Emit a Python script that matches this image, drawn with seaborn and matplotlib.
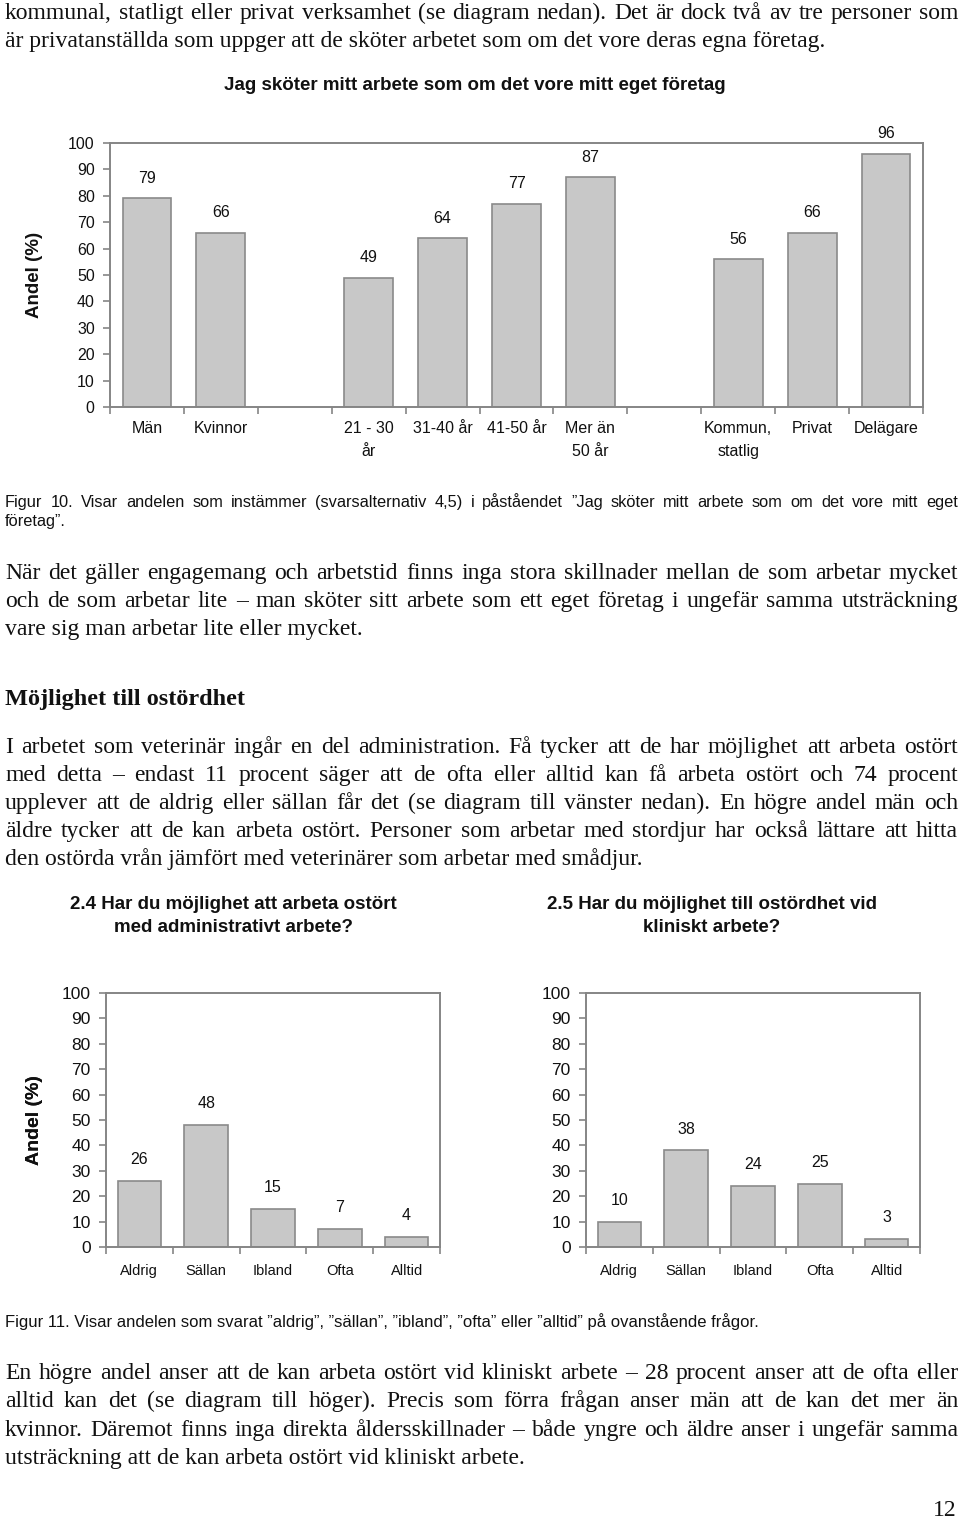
import pandas as pd
import seaborn as sns
import matplotlib.pyplot as plt

# ---- data ----
top_title = "Jag sköter mitt arbete som om det vore mitt eget företag"
top_order = ["Män", "Kvinnor", "gap1", "21 - 30\når", "31-40 år", "41-50 år",
             "Mer än\n50 år", "gap2", "Kommun,\nstatlig", "Privat", "Delägare"]
top_cats = ["Män", "Kvinnor", "21 - 30\når", "31-40 år", "41-50 år",
            "Mer än\n50 år", "Kommun,\nstatlig", "Privat", "Delägare"]
top_vals = [79, 66, 49, 64, 77, 87, 56, 66, 96]

freq_cats = ["Aldrig", "Sällan", "Ibland", "Ofta", "Alltid"]
admin_vals = [26, 48, 15, 7, 4]
klin_vals = [10, 38, 24, 25, 3]
admin_title = "2.4 Har du möjlighet att arbeta ostört\nmed administrativt arbete?"
klin_title = "2.5 Har du möjlighet till ostördhet vid\nkliniskt arbete?"

y_ticks = list(range(0, 101, 10))

para1 = ["kommunal, statligt eller privat verksamhet (se diagram nedan). Det är dock två av tre personer som",
         "är privatanställda som uppger att de sköter arbetet som om det vore deras egna företag."]
cap10 = ["Figur 10. Visar andelen som instämmer (svarsalternativ 4,5) i påståendet \u201dJag sköter mitt arbete som om det vore mitt eget",
         "företag\u201d."]
para2 = ["När det gäller engagemang och arbetstid finns inga stora skillnader mellan de som arbetar mycket",
         "och de som arbetar lite \u2013 man sköter sitt arbete som ett eget företag i ungefär samma utsträckning",
         "vare sig man arbetar lite eller mycket."]
heading = "Möjlighet till ostördhet"
para3 = ["I arbetet som veterinär ingår en del administration. Få tycker att de har möjlighet att arbeta ostört",
         "med detta \u2013 endast 11 procent säger att de ofta eller alltid kan få arbeta ostört och 74 procent",
         "upplever att de aldrig eller sällan får det (se diagram till vänster nedan). En högre andel män och",
         "äldre tycker att de kan arbeta ostört. Personer som arbetar med stordjur har också lättare att hitta",
         "den ostörda vrån jämfört med veterinärer som arbetar med smådjur."]
cap11 = "Figur 11. Visar andelen som svarat \u201daldrig\u201d, \u201dsällan\u201d, \u201dibland\u201d, \u201dofta\u201d eller \u201dalltid\u201d på ovanstående frågor."
para4 = ["En högre andel anser att de kan arbeta ostört vid kliniskt arbete \u2013 28 procent anser att de ofta eller",
         "alltid kan det (se diagram till höger). Precis som förra frågan anser män att de kan det mer än",
         "kvinnor. Däremot finns inga direkta åldersskillnader \u2013 både yngre och äldre anser i ungefär samma",
         "utsträckning att de kan arbeta ostört vid kliniskt arbete."]
page_no = "12"

# ---- style ----
W, H = 960, 1525
sns.set_theme(style="white")
plt.rcParams['font.family'] = ['Liberation Sans', 'DejaVu Sans']
SERIF = ['Liberation Serif', 'DejaVu Serif']
SANS = ['Liberation Sans', 'DejaVu Sans']
BAR = '#c8c8c8'
EDGE = '#8a8a8a'
FRAME = '#858585'
INK = '#111111'
BODY = 17

fig = plt.figure(figsize=(W / 100, H / 100), dpi=100)
renderer = fig.canvas.get_renderer()


def fy(y):
    return 1 - y / H


def put_lines(lines, y0, step, size, family, x0=5, x1=958, justify_last=False, **kw):
    # y0 is the visual centre of the first line; draw on a common baseline
    shift = 0.25 * size * 100 / 72
    for k, s in enumerate(lines):
        y = fy(y0 + k * step + shift)
        last = k == len(lines) - 1
        if last and not justify_last:
            fig.text(x0 / W, y, s, va='baseline', ha='left', fontsize=size, family=family, color=INK, **kw)
            continue
        words = s.split(' ')
        objs = [fig.text(0, y, w, va='baseline', ha='left', fontsize=size, family=family, color=INK, **kw)
                for w in words]
        widths = [o.get_window_extent(renderer).width for o in objs]
        gap = (x1 - x0 - sum(widths)) / (len(words) - 1)
        x = x0
        for o, w in zip(objs, widths):
            o.set_x(x / W)
            x += w + gap


def style_axes(ax, n, xsize, ysize, label_pad):
    ax.set_ylim(0, 100)
    ax.set_xlim(-0.5, n - 0.5)
    ax.set_yticks(y_ticks)
    ax.set_xlabel('')
    for sp in ax.spines.values():
        sp.set_visible(True)
        sp.set_color(FRAME)
        sp.set_linewidth(1.4)
    ax.set_xticks([i - 0.5 for i in range(n + 1)], minor=True)
    ax.tick_params(axis='x', which='major', length=0, pad=label_pad, labelsize=xsize, colors=INK)
    ax.tick_params(axis='x', which='minor', length=5, width=1.2, color=FRAME, direction='out', bottom=True)
    ax.tick_params(axis='y', length=5, width=1.2, color=FRAME, direction='out', left=True,
                   pad=6, labelsize=ysize, labelcolor=INK)


# ---- top chart ----
ax1 = fig.add_axes([110 / W, fy(407), 813 / W, 264 / H])
sns.barplot(x=top_cats, y=top_vals, order=top_order, color=BAR, saturation=1,
            edgecolor=EDGE, linewidth=1.2, width=0.66, ax=ax1)
style_axes(ax1, len(top_order), 11.5, 11.5, 10)
ax1.set_xticks(range(len(top_order)))
ax1.set_xticklabels(['' if c.startswith('gap') else c for c in top_order], linespacing=1.7)
ax1.bar_label(ax1.containers[0], fmt='%d', padding=9, fontsize=11.5, color=INK)
ax1.set_ylabel('Andel (%)', fontsize=13.5, fontweight='bold', color=INK)
ax1.yaxis.set_label_coords((43 - 110) / 813, 0.5)
fig.text(475 / W, fy(86), top_title, ha='center', va='center', fontsize=13.5, fontweight='bold', color=INK)

# ---- bottom charts ----
for left, vals, title, cx in [(106, admin_vals, admin_title, 233), (586, klin_vals, klin_title, 712)]:
    ax = fig.add_axes([left / W, fy(1247), 334 / W, 254 / H])
    sns.barplot(x=freq_cats, y=vals, order=freq_cats, color=BAR, saturation=1,
                edgecolor=EDGE, linewidth=1.2, width=0.65, ax=ax)
    style_axes(ax, len(freq_cats), 10.5, 12.5, 12)
    ax.bar_label(ax.containers[0], fmt='%d', padding=10, fontsize=11.5, color=INK)
    ax.set_ylabel('Andel (%)', fontsize=14, fontweight='bold', color=INK)
    ax.yaxis.set_label_coords((43 - left) / 334, 0.5)
    fig.text(cx / W, fy(916), title, ha='center', va='center', fontsize=13.5, fontweight='bold',
             linespacing=1.45, color=INK)

# ---- page text ----
put_lines(para1, 13, 28, BODY, SERIF)
put_lines(cap10, 503, 19, 11.8, SANS)
put_lines(para2, 573, 28, BODY, SERIF)
fig.text(5 / W, fy(699), heading, ha='left', va='center', fontsize=17.5, fontweight='bold', family=SERIF, color=INK)
put_lines(para3, 747, 28, BODY, SERIF)
fig.text(5 / W, fy(1322), cap11, ha='left', va='center', fontsize=12, family=SANS, color=INK)
put_lines(para4, 1373, 28.5, BODY, SERIF)
fig.text(957 / W, fy(1511), page_no, ha='right', va='center', fontsize=17, family=SERIF, color=INK)

fig.savefig('out.png', dpi=100, facecolor='white')
